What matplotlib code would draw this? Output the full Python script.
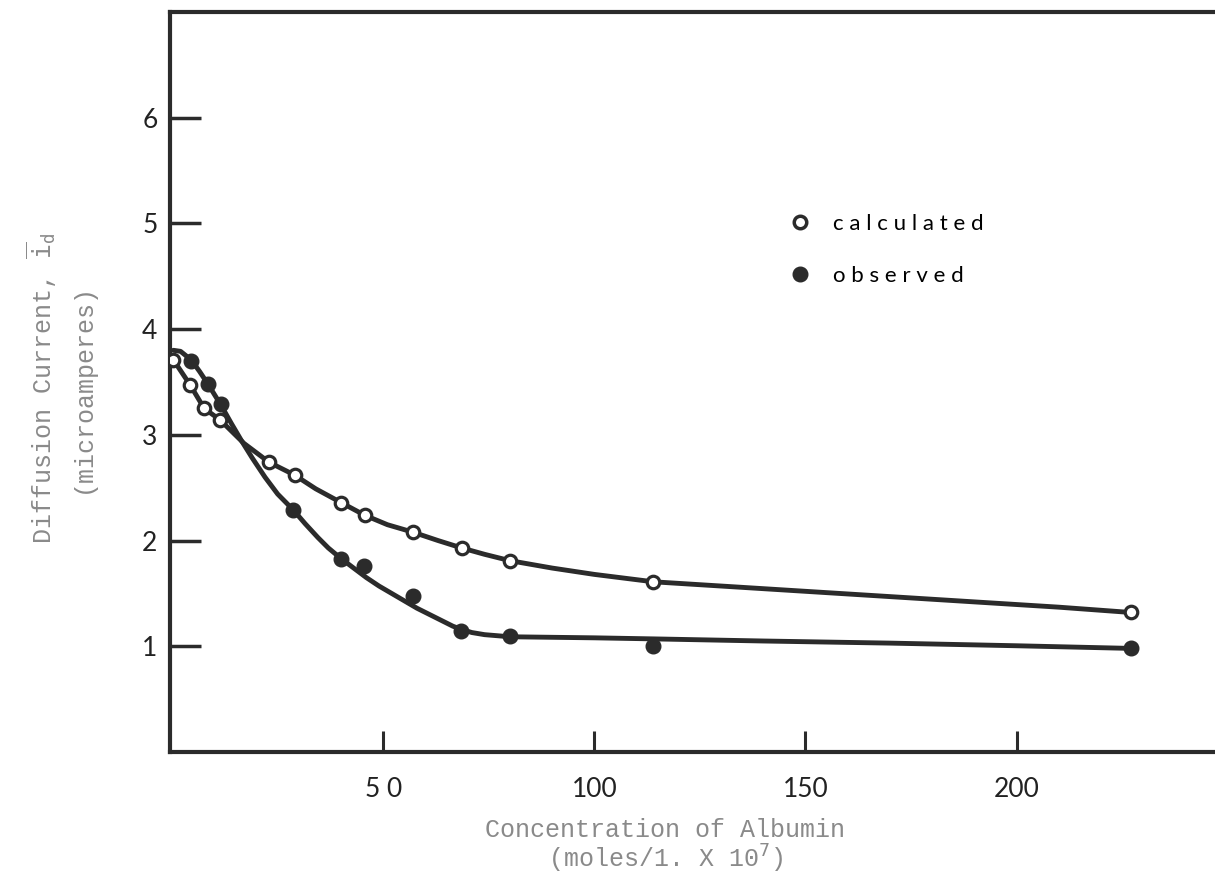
import matplotlib
matplotlib.use('Agg')
import matplotlib.pyplot as plt
from matplotlib.lines import Line2D

# concentration of albumin (moles/l x 10^7)
calc_x = [0.3, 4.3, 7.6, 11.4, 23.0, 29.0, 40.0, 45.6, 57.0, 68.6, 80.0, 114.0, 227.0]
calc_y = [3.71, 3.47, 3.25, 3.14, 2.74, 2.62, 2.36, 2.24, 2.08, 1.93, 1.81, 1.61, 1.32]

obs_x = [4.5, 8.5, 11.6, 28.7, 40.0, 45.5, 57.0, 68.5, 80.0, 114.0, 227.0]
obs_y = [3.70, 3.48, 3.29, 2.29, 1.83, 1.76, 1.48, 1.14, 1.10, 1.00, 0.98]

# hand drawn curves
calc_curve_x = [0.3, 4.3, 7.6, 11.4, 17.0, 23.0, 29.0, 34.0, 40.0, 45.6, 51.0, 57.0, 63.0, 68.6, 74.0,
                80.0, 90.0, 100.0, 114.0, 130.0, 150.0, 170.0, 190.0, 210.0, 227.0]
calc_curve_y = [3.71, 3.47, 3.25, 3.14, 2.92, 2.74, 2.62, 2.49, 2.36, 2.24, 2.15, 2.08, 2.00, 1.93, 1.87,
                1.81, 1.74, 1.68, 1.61, 1.57, 1.52, 1.47, 1.42, 1.37, 1.32]
obs_curve_x = [0.3, 2.0, 4.5, 6.5, 8.5, 11.6, 14.0, 16.5, 19.0, 22.0, 25.0, 28.7, 31.5, 34.5, 37.0, 40.0,
               43.0, 46.0, 49.0, 52.0, 55.0, 58.0, 61.0, 64.0, 66.5, 68.5, 71.0, 74.0, 77.0, 80.0, 90.0,
               100.0, 114.0, 140.0, 170.0, 200.0, 227.0]
obs_curve_y = [3.80, 3.79, 3.71, 3.60, 3.48, 3.28, 3.11, 2.94, 2.78, 2.60, 2.44, 2.29, 2.16, 2.03, 1.93, 1.83,
               1.74, 1.65, 1.57, 1.50, 1.43, 1.36, 1.30, 1.24, 1.19, 1.16, 1.13, 1.11, 1.10, 1.09, 1.085,
               1.08, 1.07, 1.05, 1.03, 1.005, 0.98]

xticks = [50, 100, 150, 200]
xtick_labels = ['5 0', '100', '150', '200']
yticks = [1, 2, 3, 4, 5, 6]

ink = '#2b2b2b'
gray = '#8a8a8a'

fig = plt.figure(figsize=(12.15, 8.76), dpi=100)
ax = fig.add_axes([170/1215, 1 - 752/876, 1 - 170/1215, (752 - 12)/876])

ax.plot(calc_curve_x, calc_curve_y, color=ink, lw=3.5, solid_capstyle='round',
        solid_joinstyle='round', zorder=2)
ax.plot(obs_curve_x, obs_curve_y, color=ink, lw=3.5, solid_capstyle='round',
        solid_joinstyle='round', zorder=2)
ax.plot(calc_x, calc_y, 'o', ms=9, mfc='white', mec=ink, mew=2.3, ls='none', zorder=3)
ax.plot(obs_x, obs_y, 'o', ms=10.5, mfc=ink, mec=ink, ls='none', zorder=3)

ax.set_xlim(-0.5, 247)
ax.set_ylim(0, 7)

for side in ['left', 'top', 'bottom']:
    ax.spines[side].set_linewidth(3)
    ax.spines[side].set_color(ink)
ax.spines['right'].set_visible(False)

ax.set_xticks(xticks)
ax.set_xticklabels(xtick_labels)
ax.set_yticks(yticks)
ax.set_yticklabels([str(v) for v in yticks])
ax.tick_params(axis='y', direction='in', length=22, width=2.5, color=ink, pad=9,
               labelsize=19, labelcolor='#222222')
ax.tick_params(axis='x', direction='in', length=15, width=2.2, color=ink, pad=18,
               labelsize=19, labelcolor='#222222')
for lab in ax.get_xticklabels() + ax.get_yticklabels():
    lab.set_family('Lato')

ax.set_xlabel('Concentration of Albumin\n(moles/1. X 10$^7$)', family='Liberation Mono',
              fontsize=18, color=gray, linespacing=1.05)
ax.xaxis.set_label_coords(0.474, -0.089)
ax.set_ylabel('Diffusion Current, $\\overline{\\mathtt{i}}_\\mathtt{d}$\n(microamperes)',
              family='Liberation Mono', fontsize=18, color=gray, linespacing=1.6)
ax.yaxis.set_label_coords(-0.072, 0.492)

handles = [Line2D([], [], marker='o', ls='none', ms=9, mfc='white', mec=ink, mew=2.5),
           Line2D([], [], marker='o', ls='none', ms=10.5, mfc=ink, mec=ink)]
ax.legend(handles, ['c a l c u l a t e d', 'o b s e r v e d'], loc='upper left',
          bbox_to_anchor=(0.5735, 0.754), frameon=False, handletextpad=0.95,
          labelspacing=1.42, prop={'family': 'Lato', 'size': 16}, handlelength=1.0)

fig.savefig('out.png', dpi=100)
